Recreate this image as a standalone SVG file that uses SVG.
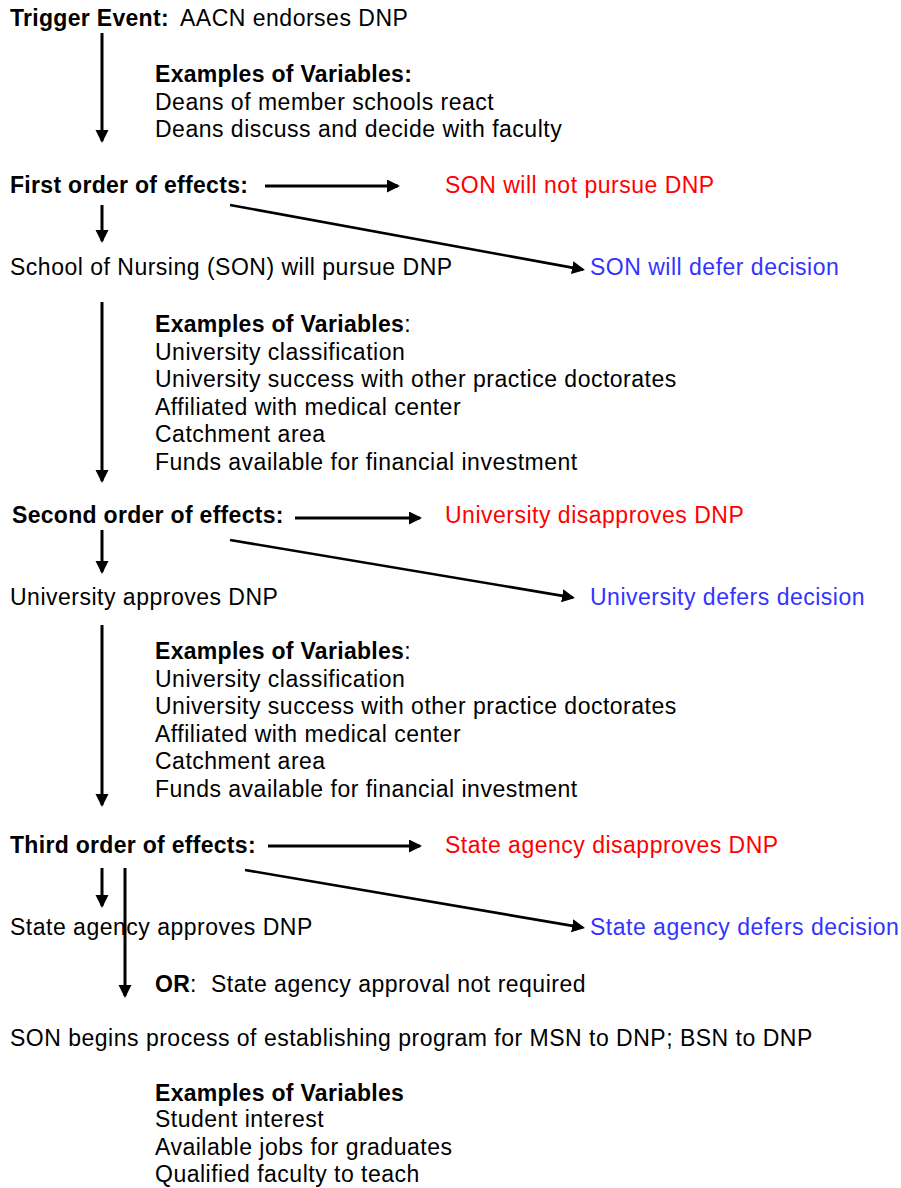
<svg xmlns="http://www.w3.org/2000/svg" width="901" height="1188" viewBox="0 0 901 1188">
<style>
text{font-family:"Liberation Sans",Arial,sans-serif;font-size:23px;letter-spacing:0.5px;fill:#000}
.b{font-weight:bold;letter-spacing:0.3px}
.r{fill:#ff0000}
.u{fill:#3333ff}
.c line{stroke:#000;stroke-width:3;marker-end:url(#ah)}
.c line.d{stroke-width:2.6}
</style>
<defs>
<marker id="ah" markerUnits="userSpaceOnUse" markerWidth="14" markerHeight="14" refX="11" refY="6.5" orient="auto">
<path d="M0,0 L13,6.5 L0,13 z" fill="#000"/>
</marker>
</defs>
<rect width="901" height="1188" fill="#fff"/>

<g id="trigger">
<text x="10" y="26"><tspan class="b">Trigger Event:</tspan></text>
<text x="180" y="26">AACN endorses DNP</text>
</g>
<g id="vars1">
<text x="155" y="82" class="b">Examples of Variables:</text>
<text x="155" y="110">Deans of member schools react</text>
<text x="155" y="137">Deans discuss and decide with faculty</text>
</g>
<g id="first">
<text x="10" y="193" class="b">First order of effects:</text>
</g>
<g id="son-not"><text x="445" y="193" class="r">SON will not pursue DNP</text></g>
<g id="son-pursue"><text x="10" y="275">School of Nursing (SON) will pursue DNP</text></g>
<g id="son-defer"><text x="590" y="275" class="u">SON will defer decision</text></g>
<g id="vars2">
<text x="155" y="332"><tspan class="b">Examples of Variables</tspan>:</text>
<text x="155" y="359.5">University classification</text>
<text x="155" y="387">University success with other practice doctorates</text>
<text x="155" y="414.5">Affiliated with medical center</text>
<text x="155" y="442">Catchment area</text>
<text x="155" y="469.5">Funds available for financial investment</text>
</g>
<g id="second"><text x="12" y="523" class="b">Second order of effects:</text></g>
<g id="uni-dis"><text x="445" y="523" class="r">University disapproves DNP</text></g>
<g id="uni-app"><text x="10" y="605">University approves DNP</text></g>
<g id="uni-defer"><text x="590" y="605" class="u">University defers decision</text></g>
<g id="vars3">
<text x="155" y="659"><tspan class="b">Examples of Variables</tspan>:</text>
<text x="155" y="686.5">University classification</text>
<text x="155" y="714">University success with other practice doctorates</text>
<text x="155" y="741.5">Affiliated with medical center</text>
<text x="155" y="769">Catchment area</text>
<text x="155" y="796.5">Funds available for financial investment</text>
</g>
<g id="third"><text x="10" y="853" class="b">Third order of effects:</text></g>
<g id="state-dis"><text x="445" y="853" class="r">State agency disapproves DNP</text></g>
<g id="state-app"><text x="10" y="935">State agency approves DNP</text></g>
<g id="state-defer"><text x="590" y="935" class="u">State agency defers decision</text></g>
<g id="or">
<text x="155" y="992"><tspan class="b">OR</tspan>:</text>
<text x="211" y="992">State agency approval not required</text>
</g>
<g id="son-begins"><text x="10" y="1046">SON begins process of establishing program for MSN to DNP; BSN to DNP</text></g>
<g id="vars4">
<text x="155" y="1101" class="b">Examples of Variables</text>
<text x="155" y="1127">Student interest</text>
<text x="155" y="1155">Available jobs for graduates</text>
<text x="155" y="1182">Qualified faculty to teach</text>
</g>

<g id="connectors" class="c">
<line x1="102" y1="33" x2="102" y2="141"/>
<line x1="265" y1="186" x2="398" y2="186"/>
<line class="d" x1="230" y1="205" x2="583" y2="269.6"/>
<line x1="102" y1="205" x2="102" y2="241"/>
<line x1="102" y1="302" x2="102" y2="481"/>
<line x1="295" y1="518" x2="420" y2="518"/>
<line class="d" x1="230" y1="540" x2="573" y2="597.6"/>
<line x1="102" y1="530" x2="102" y2="572"/>
<line x1="102" y1="625" x2="102" y2="805"/>
<line x1="268" y1="846" x2="420" y2="846"/>
<line class="d" x1="245" y1="870" x2="583" y2="927.6"/>
<line x1="102" y1="868" x2="102" y2="906"/>
<line x1="125" y1="868" x2="125" y2="996"/>
</g>
</svg>
